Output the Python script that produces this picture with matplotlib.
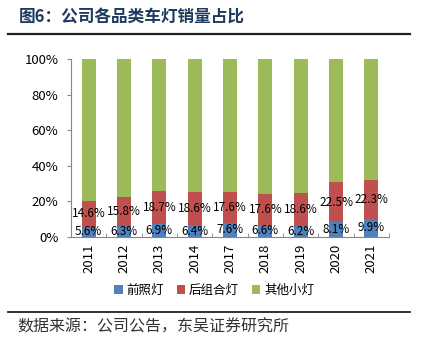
import matplotlib
matplotlib.use("Agg")
import matplotlib.pyplot as plt
from matplotlib.lines import Line2D
from matplotlib.patches import Patch
import numpy as np

plt.rcParams['font.family'] = ['Noto Sans CJK SC', 'DejaVu Sans']

years = ['2011', '2012', '2013', '2014', '2017', '2018', '2019', '2020', '2021']
headlamp = [5.6, 6.3, 6.9, 6.4, 7.6, 6.6, 6.2, 8.1, 9.9]
rear = [14.6, 15.8, 18.7, 18.6, 17.6, 17.6, 18.6, 22.5, 22.3]
other = [100 - a - b for a, b in zip(headlamp, rear)]
series_names = ['前照灯', '后组合灯', '其他小灯']
colors = ['#4F81BD', '#C0504D', '#9BBB59']

fig = plt.figure(figsize=(4.24, 3.54), dpi=100)
ax = fig.add_axes([71/424, 1-236.7/354, (389-71)/424, (236.7-59.3)/354])

x = np.arange(len(years))
w = 0.4
h = np.array(headlamp)
r = np.array(rear)
o = np.array(other)
ax.bar(x, h, w, color=colors[0], zorder=2)
ax.bar(x, r, w, bottom=h, color=colors[1], zorder=2)
ax.bar(x, o, w, bottom=h + r, color=colors[2], zorder=2)

for i in range(len(years)):
    ax.text(x[i], h[i] / 2, f'{headlamp[i]:.1f}%', ha='center', va='center',
            fontsize=8.5, color='#000000', zorder=3)
    ax.text(x[i], h[i] + r[i] / 2, f'{rear[i]:.1f}%', ha='center', va='center',
            fontsize=8.5, color='#000000', zorder=3)

ax.set_xlim(-0.5, len(years) - 0.5)
ax.set_ylim(0, 100)
ax.set_yticks([0, 20, 40, 60, 80, 100])
ax.set_yticklabels(['0%', '20%', '40%', '60%', '80%', '100%'], fontsize=9.5)
ax.set_xticks(x)
ax.set_xticklabels(years, rotation=90, fontsize=9.5)
ax.set_xticks(np.arange(-0.5, len(years), 1.0), minor=True)
ax.tick_params(axis='x', which='major', length=0, pad=5)
ax.tick_params(axis='x', which='minor', direction='in', length=3, color='#868686')
ax.tick_params(axis='y', direction='out', length=3, color='#868686', pad=6)
for s in ['top', 'right']:
    ax.spines[s].set_visible(False)
for s in ['left', 'bottom']:
    ax.spines[s].set_color('#868686')
    ax.spines[s].set_linewidth(0.8)

handles = [Patch(facecolor=c, edgecolor='none') for c in colors]
fig.legend(handles, series_names, loc='center', bbox_to_anchor=(214/424, 1-290/354),
           ncol=3, frameon=False, fontsize=9, handlelength=0.7, handleheight=0.7,
           handletextpad=0.3, columnspacing=1.0)

fig.text(19/424, 1-18/354, '图6：公司各品类车灯销量占比', fontsize=12, fontweight='bold',
         color='#1F3A5F', ha='left', va='center')
fig.add_artist(Line2D([8/424, 410/424], [1-34/354, 1-34/354], color='#222222', lw=1.6))
fig.add_artist(Line2D([8/424, 410/424], [1-312/354, 1-312/354], color='#222222', lw=1.3))
fig.text(17/424, 1-327/354, '数据来源：公司公告，东吴证券研究所', fontsize=11.5,
         color='#333333', ha='left', va='center')

fig.savefig('out.png', dpi=100)
